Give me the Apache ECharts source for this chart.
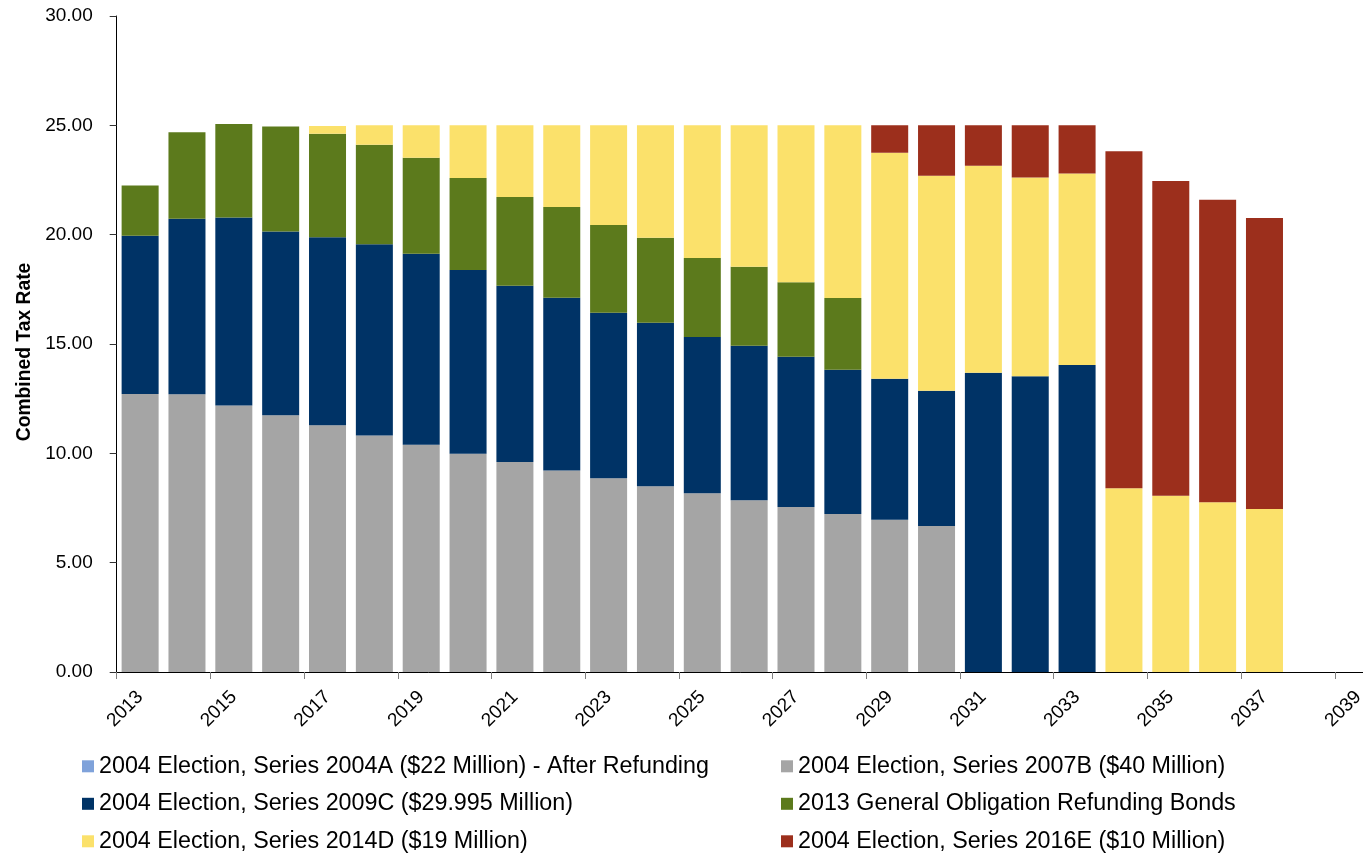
<!DOCTYPE html>
<html>
<head>
<meta charset="utf-8">
<script src="https://cdn.jsdelivr.net/npm/echarts@6/dist/echarts.min.js"></script>
<style>html,body{margin:0;padding:0;background:#fff}#c{width:1363px;height:854px}</style>
</head>
<body>
<div id="c"></div>
<script>
var years = ['2013','2014','2015','2016','2017','2018','2019','2020','2021','2022','2023','2024','2025','2026','2027','2028','2029','2030','2031','2032','2033','2034','2035','2036','2037','2038','2039'];
var yTicks = [0, 5, 10, 15, 20, 25, 30];
var s2004A = [0,0,0,0,0,0,0,0,0,0,0,0,0,0,0,0,0,0,0,0,0,0,0,0,0,null,null];
var s2007B = [12.71,12.70,12.19,11.74,11.28,10.82,10.39,9.98,9.60,9.21,8.86,8.50,8.17,7.86,7.55,7.22,6.96,6.68,null,null,null,null,null,null,null,null,null];
var s2009C = [7.24,8.03,8.60,8.41,8.60,8.74,8.74,8.40,8.06,7.91,7.57,7.47,7.15,7.06,6.87,6.60,6.45,6.18,13.69,13.52,14.04,null,null,null,null,null,null];
var s2013R = [2.30,3.95,4.27,4.80,4.73,4.55,4.39,4.21,4.06,4.14,4.01,3.89,3.61,3.61,3.40,3.28,null,null,null,null,null,null,null,null,null,null,null];
var s2014D = [null,null,null,null,0.36,0.89,1.48,2.41,3.28,3.74,4.56,5.14,6.07,6.47,7.18,7.90,10.34,9.83,9.46,9.10,8.76,8.40,8.06,7.76,7.45,null,null];
var s2016E = [null,null,null,null,null,null,null,null,null,null,null,null,null,null,null,null,1.25,2.31,1.85,2.38,2.20,15.41,14.39,13.84,13.31,null,null];

var names = {
  a: '2004 Election, Series 2004A ($22 Million) - After Refunding',
  b: '2004 Election, Series 2007B ($40 Million)',
  c: '2004 Election, Series 2009C ($29.995 Million)',
  r: '2013 General Obligation Refunding Bonds',
  d: '2004 Election, Series 2014D ($19 Million)',
  e: '2004 Election, Series 2016E ($10 Million)'
};
var colors = {a:'#7FA2DA', b:'#A5A5A5', c:'#003366', r:'#5C7A1C', d:'#FBE16B', e:'#9C2F1C'};
var FONT = '"Liberation Sans", Arial, sans-serif';

function bar(key, data) {
  return {
    name: names[key], type: 'bar', stack: 'total', data: data,
    barWidth: '79%',
    itemStyle: {color: colors[key]},
    emphasis: {disabled: true}
  };
}

var chart = echarts.init(document.getElementById('c'), null, {renderer: 'canvas'});
var legendCommon = {
  orient: 'vertical', icon: 'rect', itemWidth: 12, itemHeight: 12, itemGap: 13.5,
  top: 754.3, height: 200, padding: 0, selectedMode: false,
  textStyle: {fontFamily: FONT, fontSize: 23.3, color: '#000', lineHeight: 24}
};
chart.setOption({
  animation: false,
  backgroundColor: '#fff',
  textStyle: {fontFamily: FONT},
  grid: {left: 116.7, right: -18.6, top: 16, bottom: 182, containLabel: false, outerBoundsMode: 'none'},
  legend: [
    Object.assign({left: 82, data: [names.a, names.c, names.d]}, legendCommon),
    Object.assign({left: 781, data: [names.b, names.r, names.e]}, legendCommon)
  ],
  xAxis: {
    type: 'category', data: years, boundaryGap: true,
    axisLine: {lineStyle: {color: '#000', width: 1}},
    axisTick: {show: true, interval: 1, length: 7, lineStyle: {color: '#808080'}},
    axisLabel: {interval: 1, rotate: 45, margin: 22, fontSize: 19, color: '#000', fontFamily: FONT, hideOverlap: false}
  },
  yAxis: {
    type: 'value', min: 0, max: 30, interval: 5,
    name: 'Combined Tax Rate', nameLocation: 'middle', nameRotate: 90, nameGap: 82,
    nameTextStyle: {fontSize: 19.3, fontWeight: 'bold', color: '#000', fontFamily: FONT, padding: [0, 16, 0, 0]},
    axisLine: {show: true, lineStyle: {color: '#000', width: 1}},
    axisTick: {show: true, length: 7, lineStyle: {color: '#333'}},
    splitLine: {show: false},
    axisLabel: {margin: 24, fontSize: 19, color: '#000', fontFamily: FONT,
      formatter: function (v) { return yTicks.indexOf(v) >= 0 ? v.toFixed(2) : ''; }}
  },
  series: [
    bar('a', s2004A),
    bar('b', s2007B),
    bar('c', s2009C),
    bar('r', s2013R),
    bar('d', s2014D),
    bar('e', s2016E)
  ]
});
</script>
</body>
</html>
